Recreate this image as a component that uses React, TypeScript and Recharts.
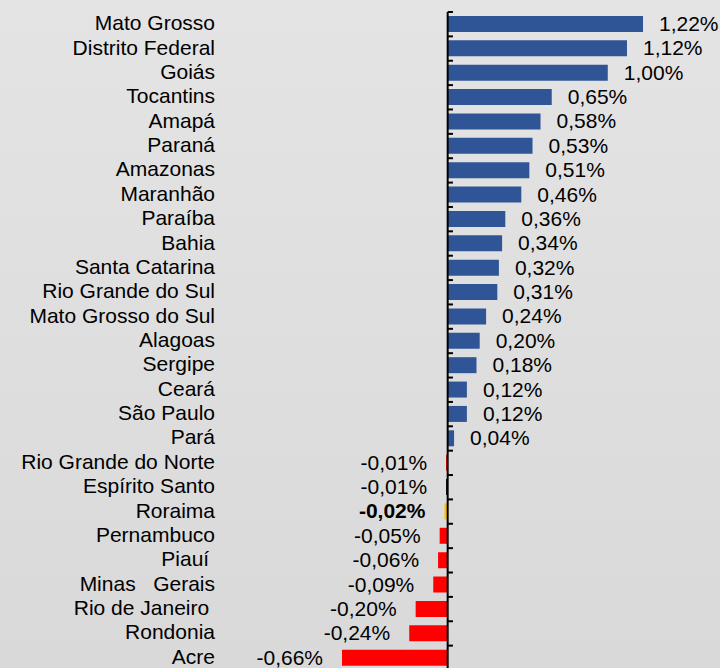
import React from 'react';
import { BarChart, Bar, XAxis, YAxis, Cell, LabelList, ReferenceLine } from 'recharts';

const STATES = [
  'Mato Grosso', 'Distrito Federal', 'Goiás', 'Tocantins', 'Amapá', 'Paraná', 'Amazonas',
  'Maranhão', 'Paraíba', 'Bahia', 'Santa Catarina', 'Rio Grande do Sul', 'Mato Grosso do Sul',
  'Alagoas', 'Sergipe', 'Ceará', 'São Paulo', 'Pará', 'Rio Grande do Norte', 'Espírito Santo',
  'Roraima', 'Pernambuco', 'Piauí ', 'Minas   Gerais', 'Rio de Janeiro ', 'Rondonia', 'Acre',
];

const VALUES = [
  1.22, 1.12, 1.0, 0.65, 0.58, 0.53, 0.51, 0.46, 0.36, 0.34, 0.32, 0.31, 0.24, 0.2, 0.18,
  0.12, 0.12, 0.04, -0.01, -0.01, -0.02, -0.05, -0.06, -0.09, -0.2, -0.24, -0.66,
];

// special colours for a couple of states, everything else blue / red by sign
const SPECIAL: Record<string, string> = {
  'Espírito Santo': '#000000',
  'Roraima': '#FFC000',
};
const BOLD = ['Roraima'];

const BLUE = '#2F5597';
const RED = '#FF0000';
const FONT = '"Liberation Sans", Arial, sans-serif';

const data = STATES.map((name, i) => ({ name, value: VALUES[i], pos: i + 0.5 }));
const boundaries = STATES.map((_, i) => i).concat([STATES.length]);

const fmt = (v: number) => v.toFixed(2).replace('.', ',') + '%';

const StateTick = (props: any) => {
  const { x, y, payload } = props;
  const name = STATES[Math.floor(payload.value)];
  return (
    <text x={x} y={y + 6} textAnchor="end" fontSize={21} fontFamily={FONT} fill="#000"
      style={{ whiteSpace: 'pre' }}>
      {name}
    </text>
  );
};

const ValueLabel = (props: any) => {
  const { x, y, width, height, value, index } = props;
  const left = Math.min(x, x + width);
  const right = Math.max(x, x + width);
  const neg = value < 0;
  const bold = BOLD.includes(STATES[index]);
  return (
    <text
      x={neg ? left - 19 : right + 16}
      y={y + height / 2 + 7}
      textAnchor={neg ? 'end' : 'start'}
      fontSize={21}
      fontFamily={FONT}
      fontWeight={bold ? 'bold' : 'normal'}
      fill="#000"
    >
      {fmt(value)}
    </text>
  );
};

export default function App() {
  return (
    <div style={{
      position: 'fixed', left: 0, top: 0, width: 720, height: 668, overflow: 'hidden',
      background: 'linear-gradient(#e4e4e4, #d9d9d9)',
    }}>
      <BarChart width={720} height={670} data={data} layout="vertical"
        margin={{ top: 12, right: 77, bottom: 0, left: 0 }}>
        <XAxis type="number" domain={[-0.66, 1.22]} hide />
        <YAxis type="number" dataKey="pos" domain={[0, STATES.length]}
          ticks={data.map(d => d.pos)} interval={0} width={342}
          axisLine={false} tickLine={false} tickSize={0} tickMargin={127} tick={<StateTick />} />
        <Bar dataKey="value" barSize={16} isAnimationActive={false}>
          {data.map(d => (
            <Cell key={d.name} fill={SPECIAL[d.name] ?? (d.value < 0 ? RED : BLUE)} />
          ))}
          <LabelList dataKey="value" content={<ValueLabel />} />
        </Bar>
        <ReferenceLine x={0} stroke="#000" strokeWidth={2} />
        {boundaries.map(k => (
          <ReferenceLine key={k} segment={[{ x: 0, y: k }, { x: 0.033, y: k }]}
            stroke="#000" strokeWidth={2} />
        ))}
      </BarChart>
    </div>
  );
}
